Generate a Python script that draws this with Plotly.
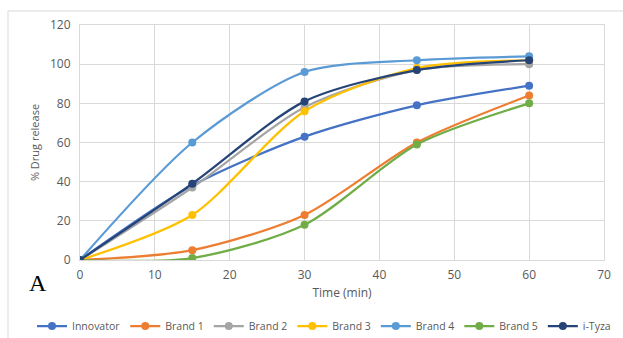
import plotly.graph_objects as go

time_min = [0, 15, 30, 45, 60]
innovator = [0, 38, 63, 79, 89]
brand1 = [0, 5, 23, 60, 84]
brand2 = [0, 37, 78, 97, 100]
brand3 = [0, 23, 76, 98, 102]
brand4 = [0, 60, 96, 102, 104]
brand5 = [0, 1, 18, 59, 80]
ityza = [0, 39, 81, 97, 102]

series = [
    ("Innovator", innovator, "#4472C4"),
    ("Brand 1", brand1, "#ED7D31"),
    ("Brand 2", brand2, "#A5A5A5"),
    ("Brand 3", brand3, "#FFC000"),
    ("Brand 4", brand4, "#5B9BD5"),
    ("Brand 5", brand5, "#70AD47"),
    ("i-Tyza", ityza, "#264478"),
]

fig = go.Figure()
for name, vals, col in series:
    fig.add_trace(go.Scatter(
        x=time_min, y=vals, name=name, mode="lines+markers",
        line=dict(color=col, width=2.25, shape="spline", smoothing=0.8),
        marker=dict(color=col, size=8),
    ))

L, R, T, B = 80, 19, 25, 78
W, H = 623, 338
pw, ph = W - L - R, H - T - B

def px(p):
    return (p - L) / pw

def py(p):
    return (H - B - p) / ph

grid = "#D9D9D9"
FONT = "Open Sans, Arial, sans-serif"
tickfont = dict(family=FONT, size=12, color="#595959")

fig.update_layout(
    width=W, height=H,
    margin=dict(l=L, r=R, t=T, b=B, autoexpand=False),
    paper_bgcolor="white", plot_bgcolor="white",
    showlegend=True,
    legend=dict(orientation="h", x=px(32), xanchor="left", y=py(326), yanchor="middle",
                font=dict(family=FONT, size=10.5, color="#595959"),
                itemwidth=30, tracegroupgap=0, bgcolor="rgba(0,0,0,0)", borderwidth=0),
    xaxis=dict(range=[0, 70], tickvals=[0, 10, 20, 30, 40, 50, 60, 70], showgrid=True,
               gridcolor=grid, zeroline=False, showline=True, linecolor=grid, mirror=True,
               tickfont=tickfont, ticks="", ticklabelstandoff=4,
               title=dict(text="Time (min)", font=dict(family=FONT, size=12, color="#595959"), standoff=6)),
    yaxis=dict(range=[0, 120], tickvals=[0, 20, 40, 60, 80, 100, 120], showgrid=True,
               gridcolor=grid, zeroline=False, showline=True, linecolor=grid, mirror=True,
               tickfont=tickfont, ticks="", ticklabelstandoff=6,
               title=dict(text="% Drug release", font=dict(family=FONT, size=11, color="#595959"), standoff=8)),
    shapes=[
        dict(type="line", xref="paper", yref="paper", x0=px(8), x1=px(623), y0=py(11), y1=py(11),
             line=dict(color="#D9D9D9", width=1)),
        dict(type="line", xref="paper", yref="paper", x0=px(8), x1=px(8), y0=py(11), y1=py(338),
             line=dict(color="#D9D9D9", width=1)),
    ],
    annotations=[
        dict(text="A", xref="paper", yref="paper", x=px(38), y=py(283), xanchor="center", yanchor="middle",
             showarrow=False, font=dict(family="Liberation Serif, Times New Roman, serif", size=24, color="black")),
    ],
)

fig.write_html("out.html")
